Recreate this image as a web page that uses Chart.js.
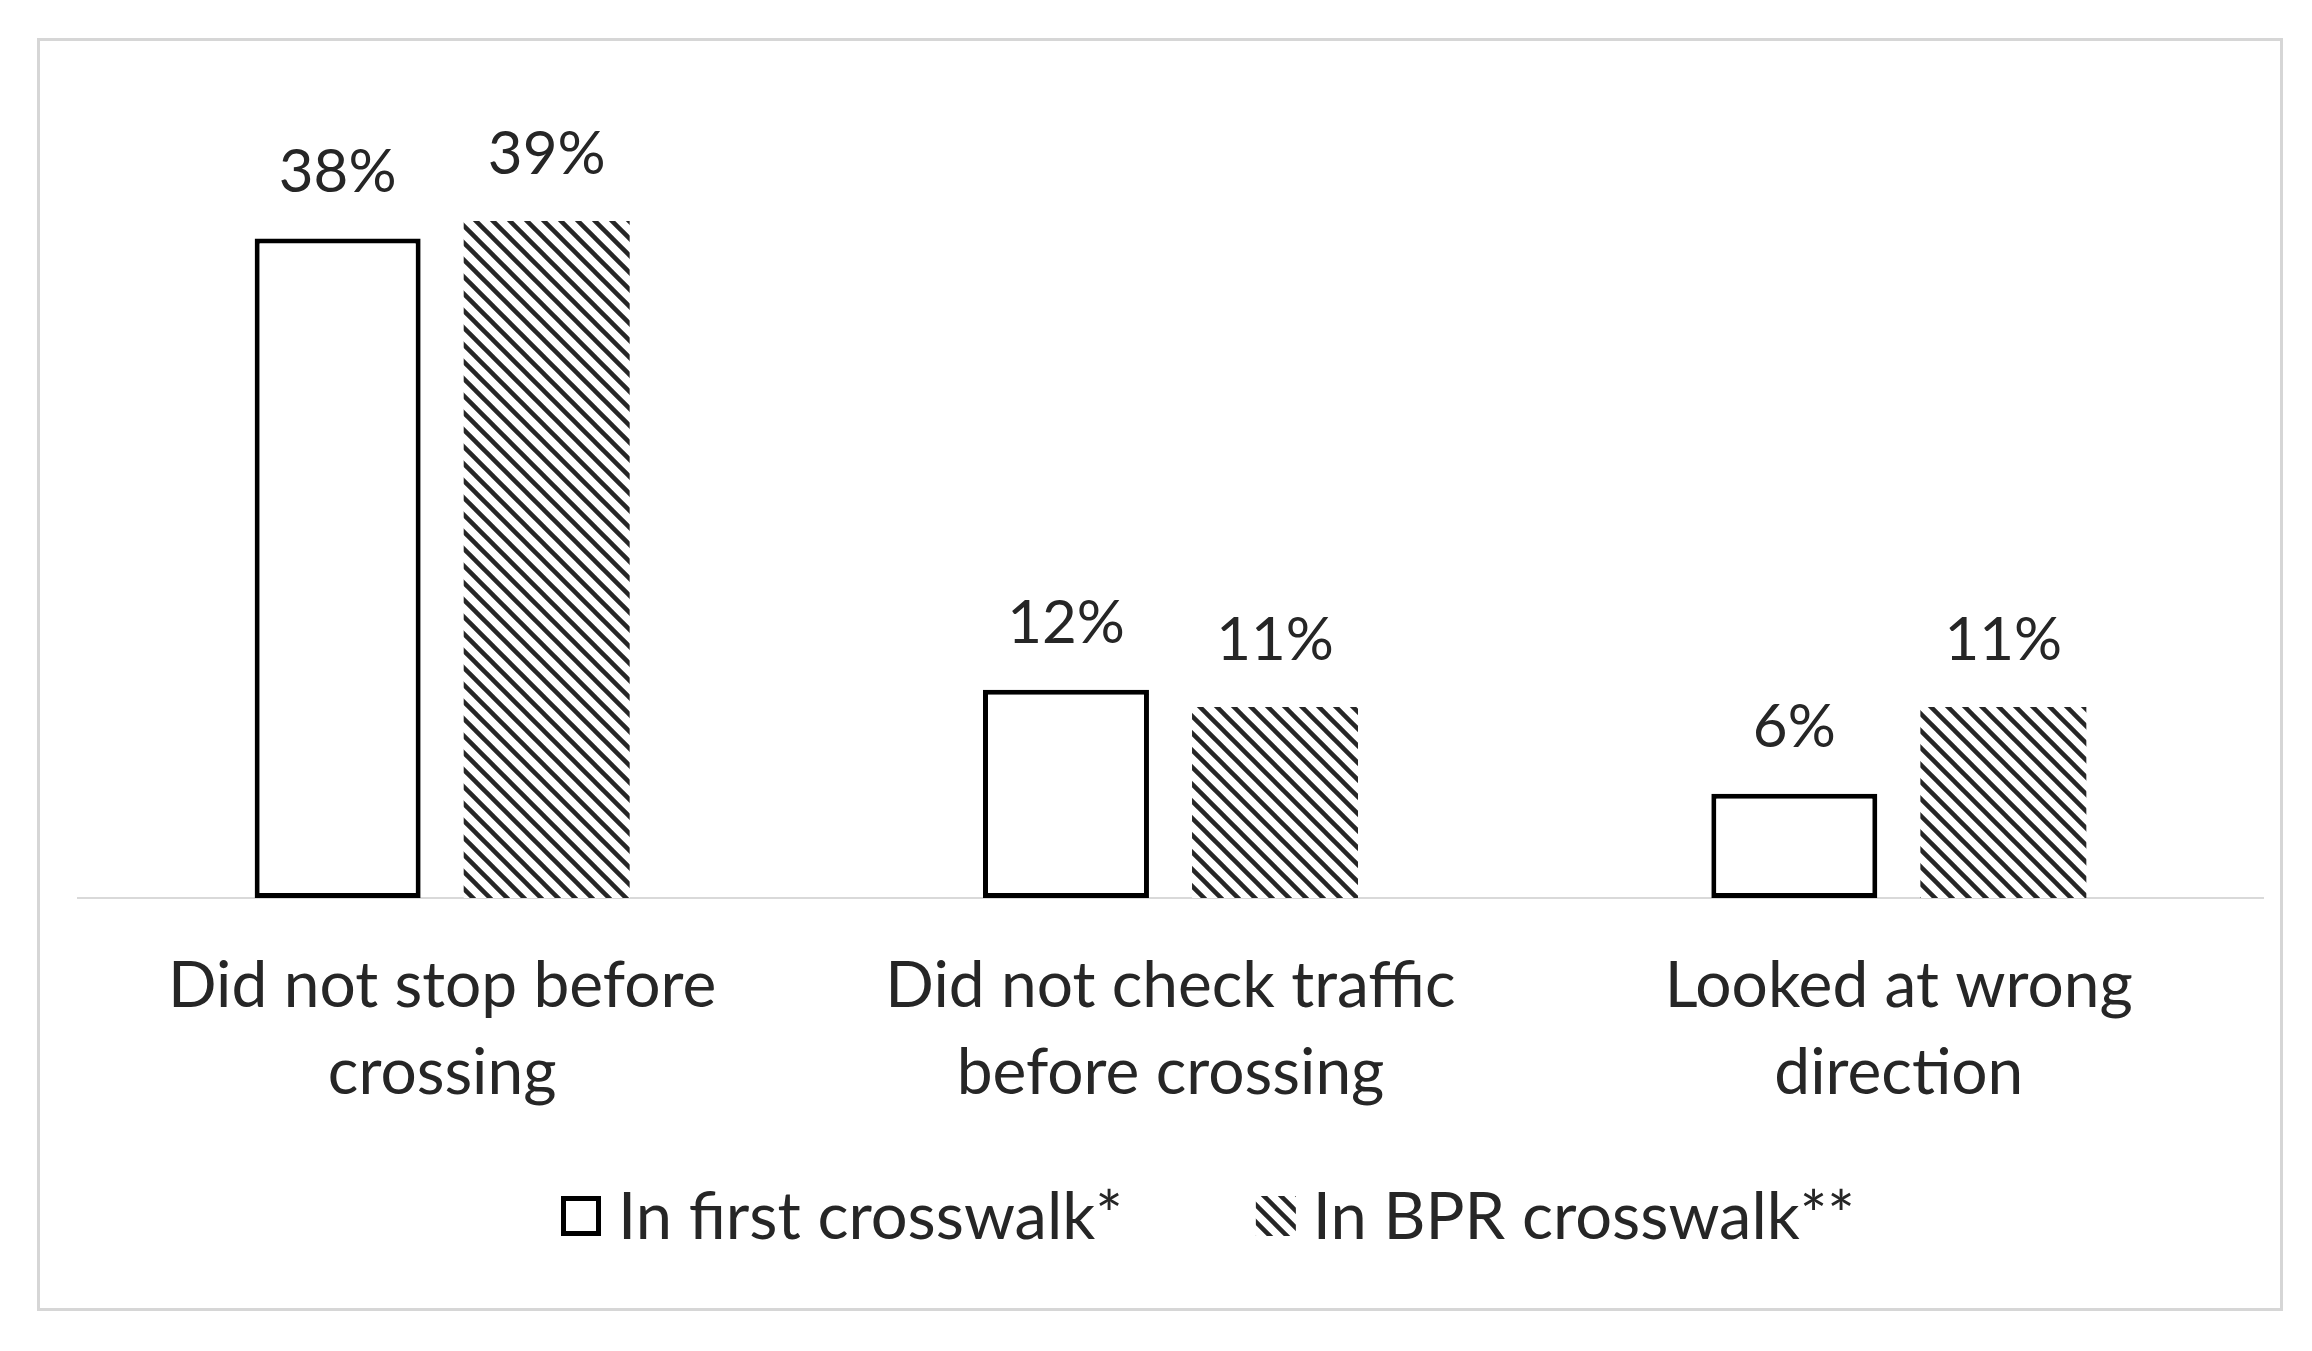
<!DOCTYPE html>
<html>
<head>
<meta charset="utf-8">
<script src="https://cdn.jsdelivr.net/npm/chart.js@4.4.1/dist/chart.umd.min.js"></script>
<style>
  html, body { margin: 0; padding: 0; background: #fff; }
  #wrap { width: 2312px; height: 1351px; position: relative; }
</style>
</head>
<body>
<div id="wrap"><canvas id="graph"></canvas></div>
<script>
const categories = [
    ['Did not stop before', 'crossing'],
    ['Did not check traffic', 'before crossing'],
    ['Looked at wrong', 'direction']
];
const seriesNames = ['In first crosswalk*', 'In BPR crosswalk**'];
const firstCrosswalk = [38, 12, 6];
const bprCrosswalk = [39, 11, 11];

const textColor = '#262626';
const fontFamily = 'Lato, "Noto Sans", sans-serif';

// diagonal hatch used for the second series
function makeHatch() {
    const s = 17;
    const c = document.createElement('canvas');
    c.width = s;
    c.height = s;
    const g = c.getContext('2d');
    g.fillStyle = '#ffffff';
    g.fillRect(0, 0, s, s);
    g.strokeStyle = '#262626';
    g.lineWidth = 4.5;
    for (const k of [-s, 0, s]) {
        g.beginPath();
        g.moveTo(k - 2, -2);
        g.lineTo(k + s + 2, s + 2);
        g.stroke();
    }
    return g.createPattern(c, 'repeat');
}
const hatch = makeHatch();

// frame round the whole chart
const framePlugin = {
    id: 'frame',
    beforeDraw(chart) {
        const ctx = chart.ctx;
        ctx.save();
        ctx.fillStyle = '#ffffff';
        ctx.fillRect(0, 0, chart.width, chart.height);
        ctx.strokeStyle = '#d6d6d6';
        ctx.lineWidth = 3;
        ctx.strokeRect(38.5, 39.5, 2243, 1270);
        ctx.restore();
    }
};

// percentage labels above the bars
const valueLabels = {
    id: 'valueLabels',
    afterDatasetsDraw(chart) {
        const ctx = chart.ctx;
        ctx.save();
        ctx.font = '60px ' + fontFamily;
        ctx.fillStyle = textColor;
        ctx.textAlign = 'center';
        ctx.textBaseline = 'middle';
        chart.data.datasets.forEach((ds, i) => {
            chart.getDatasetMeta(i).data.forEach((bar, j) => {
                ctx.fillText(ds.data[j] + '%', bar.x, bar.y - 66);
            });
        });
        ctx.restore();
    }
};

// legend drawn by hand so box/text spacing matches
const customLegend = {
    id: 'customLegend',
    afterDraw(chart) {
        const ctx = chart.ctx;
        ctx.save();
        ctx.font = '65px ' + fontFamily;
        ctx.textBaseline = 'middle';
        ctx.textAlign = 'left';
        const box = 40, gap = 17, spacing = 133, cy = 1216;
        const widths = seriesNames.map(t => ctx.measureText(t).width);
        const total = 2 * (box + gap) + widths[0] + widths[1] + spacing;
        let x = 1208 - total / 2;
        chart.data.datasets.forEach((ds, i) => {
            if (i === 0) {
                ctx.fillStyle = '#ffffff';
                ctx.fillRect(x + 2.5, cy - box / 2 + 2.5, box - 5, box - 5);
                ctx.strokeStyle = '#000000';
                ctx.lineWidth = 5;
                ctx.strokeRect(x + 2.5, cy - box / 2 + 2.5, box - 5, box - 5);
            } else {
                ctx.fillStyle = ds.backgroundColor;
                ctx.fillRect(x, cy - box / 2, box, box);
            }
            ctx.fillStyle = textColor;
            ctx.fillText(ds.label, x + box + gap, cy + 2);
            x += box + gap + widths[i] + spacing;
        });
        ctx.restore();
    }
};

Chart.defaults.font.family = fontFamily;

const chart = new Chart(
    document.getElementById('graph'),
    {
        type: 'bar',
        data: {
            labels: categories,
            datasets: [
                {
                    label: seriesNames[0],
                    data: firstCrosswalk,
                    backgroundColor: '#ffffff',
                    borderColor: '#000000',
                    borderWidth: 5,
                    borderSkipped: false,
                    categoryPercentage: 0.574,
                    barPercentage: 0.794
                },
                {
                    label: seriesNames[1],
                    data: bprCrosswalk,
                    backgroundColor: hatch,
                    borderWidth: 0,
                    categoryPercentage: 0.574,
                    barPercentage: 0.794
                }
            ]
        },
        options: {
            responsive: true,
            maintainAspectRatio: false,
            animation: false,
            layout: {
                padding: {left: 78, right: 49, top: 117, bottom: 189}
            },
            plugins: {
                legend: {display: false},
                tooltip: {enabled: false}
            },
            scales: {
                x: {
                    grid: {display: false, drawTicks: false},
                    border: {display: true, color: '#d9d9d9', width: 2},
                    ticks: {
                        color: textColor,
                        font: {size: 64, lineHeight: 1.36},
                        padding: 45,
                        maxRotation: 0,
                        autoSkip: false
                    }
                },
                y: {
                    display: false,
                    min: 0,
                    max: 45
                }
            }
        },
        plugins: [framePlugin, valueLabels, customLegend]
    }
);
</script>
</body>
</html>
